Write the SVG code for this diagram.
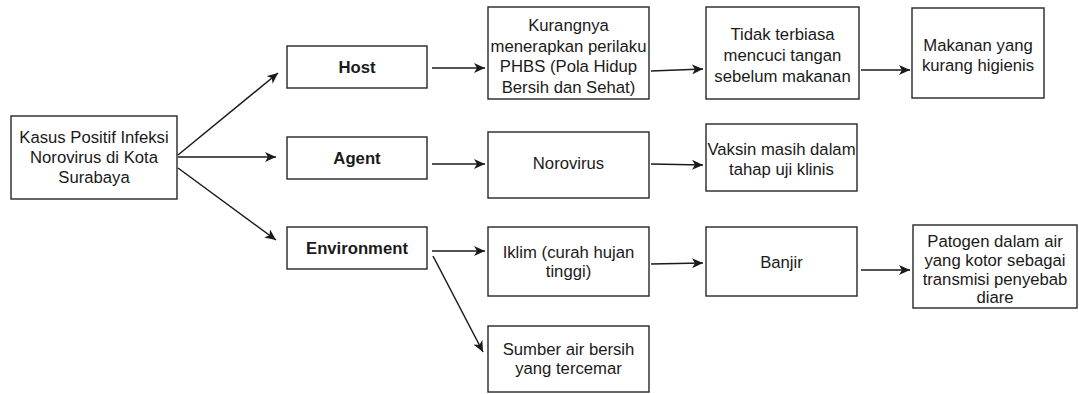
<svg xmlns="http://www.w3.org/2000/svg" width="1079" height="394" viewBox="0 0 1079 394">
  <style>
    .box { fill: #ffffff; stroke: #262626; stroke-width: 1.4; }
    .t { font-family: "Liberation Sans", Arial, sans-serif; font-size: 16.7px; fill: #1a1a1a; text-anchor: middle; }
    .b { font-weight: bold; }
    .edge { fill: none; stroke: #1a1a1a; stroke-width: 1.5; marker-end: url(#arrow); }
  </style>
  <defs>
    <marker id="arrow" markerUnits="userSpaceOnUse" markerWidth="12" markerHeight="10" refX="11" refY="5" orient="auto" viewBox="0 0 12 10">
      <path d="M0,0 L11,5 L0,10 L3,5 Z" fill="#1a1a1a"/>
    </marker>
  </defs>
  <rect width="1079" height="394" fill="#ffffff"/>

  <g id="connectors">
    <line class="edge" x1="178" y1="155" x2="278" y2="73"/>
    <line class="edge" x1="178" y1="157" x2="276" y2="157"/>
    <line class="edge" x1="178" y1="168" x2="276" y2="240"/>
    <line class="edge" x1="432" y1="68" x2="485" y2="68"/>
    <line class="edge" x1="651" y1="71" x2="703" y2="69"/>
    <line class="edge" x1="861" y1="70" x2="910" y2="70"/>
    <line class="edge" x1="432" y1="164" x2="485" y2="164"/>
    <line class="edge" x1="651" y1="164" x2="703" y2="165"/>
    <line class="edge" x1="432" y1="251" x2="485" y2="251"/>
    <line class="edge" x1="651" y1="264" x2="703" y2="263"/>
    <line class="edge" x1="861" y1="270" x2="910" y2="270"/>
    <line class="edge" x1="433" y1="256" x2="483" y2="352"/>
  </g>

  <g id="kasus">
    <rect class="box" x="11" y="116" width="166" height="83"/>
    <text class="t" x="94" y="143">Kasus Positif Infeksi</text>
    <text class="t" x="94" y="163">Norovirus di Kota</text>
    <text class="t" x="94" y="183">Surabaya</text>
  </g>

  <g id="host">
    <rect class="box" x="287" y="46" width="140" height="42"/>
    <text class="t b" x="357" y="73">Host</text>
  </g>
  <g id="agent">
    <rect class="box" x="287" y="137" width="140" height="42"/>
    <text class="t b" x="357" y="164">Agent</text>
  </g>
  <g id="environment">
    <rect class="box" x="287" y="227" width="140" height="42"/>
    <text class="t b" x="357" y="254">Environment</text>
  </g>

  <g id="kurangnya">
    <rect class="box" x="488" y="7" width="161" height="92"/>
    <text class="t" x="568.5" y="30.5">Kurangnya</text>
    <text class="t" x="568.5" y="51.5">menerapkan perilaku</text>
    <text class="t" x="568.5" y="72">PHBS (Pola Hidup</text>
    <text class="t" x="568.5" y="92.5">Bersih dan Sehat)</text>
  </g>
  <g id="tidak">
    <rect class="box" x="706" y="7" width="153" height="92"/>
    <text class="t" x="782.5" y="40">Tidak terbiasa</text>
    <text class="t" x="782.5" y="61">mencuci tangan</text>
    <text class="t" x="782.5" y="82">sebelum makanan</text>
  </g>
  <g id="makanan">
    <rect class="box" x="912" y="8" width="132" height="90"/>
    <text class="t" x="978" y="51">Makanan yang</text>
    <text class="t" x="978" y="71">kurang higienis</text>
  </g>

  <g id="norovirus">
    <rect class="box" x="488" y="132" width="161" height="66"/>
    <text class="t" x="568.5" y="169">Norovirus</text>
  </g>
  <g id="vaksin">
    <rect class="box" x="706" y="124" width="151" height="67"/>
    <text class="t" x="781.5" y="155">Vaksin masih dalam</text>
    <text class="t" x="781.5" y="175">tahap uji klinis</text>
  </g>

  <g id="iklim">
    <rect class="box" x="488" y="227" width="161" height="69"/>
    <text class="t" x="568.5" y="258">Iklim (curah hujan</text>
    <text class="t" x="568.5" y="277">tinggi)</text>
  </g>
  <g id="banjir">
    <rect class="box" x="706" y="227" width="151" height="69"/>
    <text class="t" x="781.5" y="268">Banjir</text>
  </g>
  <g id="patogen">
    <rect class="box" x="913" y="225" width="164" height="83"/>
    <text class="t" x="995" y="247">Patogen dalam air</text>
    <text class="t" x="995" y="266">yang kotor sebagai</text>
    <text class="t" x="995" y="285">transmisi penyebab</text>
    <text class="t" x="995" y="303">diare</text>
  </g>
  <g id="sumber">
    <rect class="box" x="488" y="326" width="161" height="66"/>
    <text class="t" x="568.5" y="355">Sumber air bersih</text>
    <text class="t" x="568.5" y="374">yang tercemar</text>
  </g>
</svg>
